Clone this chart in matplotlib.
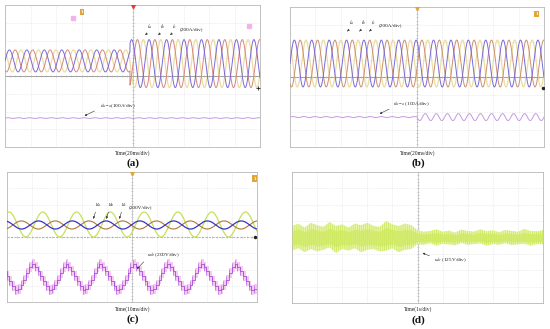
import numpy as np
import matplotlib

matplotlib.use("Agg")
import matplotlib.pyplot as plt

plt.rcParams["font.family"] = ["Liberation Serif", "DejaVu Serif"]
plt.rcParams["mathtext.fontset"] = "stix"
plt.rcParams["hatch.linewidth"] = 0.4

# ── values (units: divisions; x 10 div, y 8 div) ──
A_CYCLES = 14.6            # cycles across the screen
A_STEP = -0.1              # time of the load step
A_AMP = [0.62, 1.35]       # phase-current amplitude before / after
A_OFF = [0.85, 0.70]       # trace offset before / after
A_IDC = -2.37              # i_dc-a level
A_PHASE = [0.0, -2.09, 2.09]

B_CYCLES = 14.6
B_AMP = 1.34
B_OFF = 0.77
B_IDC = -2.29
B_RIPPLE = [0.03, 0.20]    # i_dc-a ripple before / after centre
B_RIPPLE_CYCLES = 23
B_PHASE = [0.0, -2.09, 2.09]

C_CYCLES = 7.4
C_BIG_AMP, C_BIG_OFF = 0.77, 0.77
C_SMALL_AMP, C_SMALL_OFF = 0.25, 0.74
C_PHASE = [1.2, 2.0, -1.1]          # yellow-green, blue, brown
C_UAB_OFF, C_UAB_AMP = -2.46, 0.80
C_UAB_START = -4.68                 # first trough
C_UAB_SHAPE = [-1.0, -0.9, -0.6, -0.2, 0.3, 0.75, 1.0, 0.8, 0.45, 0.1, -0.3, -0.7]

D_X = [-5.0, -4.75, -4.5, -4.25, -4.0, -3.75, -3.5, -3.25, -3.0, -2.75, -2.5,
       -2.25, -2.0, -1.75, -1.5, -1.25, -1.0, -0.75, -0.5, -0.25, 0.0, 0.25,
       0.5, 0.75, 1.0, 1.25, 1.5, 1.75, 2.0, 2.25, 2.5, 2.75, 3.0, 3.25, 3.5,
       3.75, 4.0, 4.25, 4.5, 4.75, 5.0]
D_TOP = [0.70, 0.85, 0.60, 0.90, 0.75, 0.65, 0.95, 0.70, 0.80, 0.60, 0.85,
         0.75, 0.90, 0.70, 0.65, 1.00, 0.80, 0.70, 0.85, 0.75, 0.45, 0.35,
         0.40, 0.50, 0.35, 0.42, 0.30, 0.48, 0.40, 0.36, 0.50, 0.38, 0.44,
         0.33, 0.46, 0.40, 0.35, 0.52, 0.40, 0.38, 0.45]
D_BOT = [-0.80, -0.65, -0.90, -0.70, -0.85, -0.75, -0.60, -0.95, -0.70, -0.80,
         -0.65, -0.90, -0.75, -0.70, -0.85, -0.80, -0.65, -0.90, -0.75, -0.70,
         -0.40, -0.45, -0.35, -0.50, -0.38, -0.42, -0.48, -0.33, -0.45, -0.40,
         -0.36, -0.50, -0.40, -0.44, -0.35, -0.46, -0.42, -0.38, -0.50, -0.40,
         -0.42]

TIME_LABELS = ["Time(20ms/div)", "Time(20ms/div)", "Time(10ms/div)", "Time(1s/div)"]
PANEL_LABELS = ["(a)", "(b)", "(c)", "(d)"]

PURPLE, SALMON, YELLOW = "#7262d8", "#d4807a", "#e6d58a"
LAV = "#c79ae0"
GRIDC = "#cdcdcd"
T = np.linspace(-5, 5, 4000)


def scope(ax, centre="#9a9a9a", centre_ls="-"):
    ax.set_xlim(-5, 5)
    ax.set_ylim(-4, 4)
    ax.set_xticks([])
    ax.set_yticks([])
    for s in ax.spines.values():
        s.set_color("#b8b8b8")
        s.set_linewidth(0.6)
    for x in range(-4, 5):
        ax.axvline(x, color=GRIDC, lw=0.4, ls=(0, (1, 2)), zorder=0)
    for y in range(-3, 4):
        ax.axhline(y, color=GRIDC, lw=0.4, ls=(0, (1, 2)), zorder=0)
    ax.axvline(0, color="#bdbdbd", lw=0.5, zorder=0.5)
    ax.axhline(0, color=centre, lw=0.5, ls=centre_ls, zorder=0.5)
    mx = np.arange(-5, 5.01, 0.2)
    my = np.arange(-4, 4.01, 0.2)
    ax.plot(mx, np.zeros_like(mx), "|", ms=2, mew=0.4, color="#b0b0b0", zorder=0.5)
    ax.plot(np.zeros_like(my), my, "_", ms=2, mew=0.4, color="#b0b0b0", zorder=0.5)


def wave(cycles, phase):
    return np.sin(2 * np.pi * cycles * (T + 5) / 10 + phase)


def label(ax, x, y, s, dx=-0.15, dy=-0.35, fs=4):
    ax.annotate("", xy=(x + dx, y + dy), xytext=(x + 0.02, y - 0.12),
                arrowprops=dict(arrowstyle="-|>", lw=0.4, color="#333333",
                                mutation_scale=3), zorder=6)
    ax.text(x, y, s, fontsize=fs, color="#222222", ha="left", va="bottom", zorder=6)


def chip(ax, x, y):
    ax.text(x, y, "1", fontsize=3.5, color="white", ha="center", va="center",
            fontweight="bold", zorder=7,
            bbox=dict(boxstyle="square,pad=0.25", fc="#e3a43a", ec="none"))


fig = plt.figure(figsize=(5.5, 3.29), dpi=100)
fig.patch.set_facecolor("white")

# ── (a) ──
ax = fig.add_axes([5 / 550, 1 - 147 / 329, 255 / 550, 142 / 329])
scope(ax, centre="#7d7d7d")
amp = np.where(T < A_STEP, A_AMP[0], A_AMP[1])
off = np.where(T < A_STEP, A_OFF[0], A_OFF[1])
for ph, col, lw, z in zip(A_PHASE, [PURPLE, SALMON, YELLOW], [0.7, 0.7, 0.9], [4, 3, 2]):
    ax.plot(T, off + amp * wave(A_CYCLES, ph), color=col, lw=lw, zorder=z,
            alpha=0.95 if col != YELLOW else 0.8)
ax.plot(T, A_IDC + 0.02 * wave(A_CYCLES * 1.6, 0), color=LAV, lw=0.7, zorder=3)
ax.plot([0], [3.93], "v", ms=3, color="#e23a3a", zorder=7)
chip(ax, -1.98, 3.6)
ax.plot([-2.33, 4.57], [3.27, 2.8], "s", ms=2.2, color="#f3b3ea", zorder=6)
ax.plot([4.92], [-0.68], "+", ms=3, mew=0.6, color="#222222", zorder=7)
label(ax, 0.57, 2.55, "$i_a$")
label(ax, 1.08, 2.55, "$i_b$")
label(ax, 1.55, 2.55, "$i_c$")
ax.text(1.85, 2.55, "(200A/div)", fontsize=3.8, color="#222222", va="bottom")
ax.annotate("", xy=(-1.98, -2.31), xytext=(-1.39, -1.9),
            arrowprops=dict(arrowstyle="-|>", lw=0.4, color="#333333", mutation_scale=3))
ax.text(-1.27, -1.9, "$i_{dc-a}$(100A/div)", fontsize=3.8, color="#222222", va="bottom")

# ── (b) ──
ax = fig.add_axes([290 / 550, 1 - 147 / 329, 254 / 550, 140 / 329])
scope(ax, centre="#7d7d7d")
for ph, col, lw, z in zip(B_PHASE, [PURPLE, "#c98a6a", YELLOW], [0.7, 0.7, 0.9], [4, 3, 2]):
    ax.plot(T, B_OFF + B_AMP * wave(B_CYCLES, ph), color=col, lw=lw, zorder=z,
            alpha=0.95 if col != YELLOW else 0.8)
rip = np.where(T < 0, B_RIPPLE[0], B_RIPPLE[1])
ax.plot(T, B_IDC + rip * wave(B_RIPPLE_CYCLES, 0), color=LAV, lw=0.7, zorder=3)
ax.plot([0], [3.93], "v", ms=3, color="#e3a43a", zorder=7)
chip(ax, 4.72, 3.6)
ax.plot([4.96], [-0.63], "o", ms=1.5, color="#222222", zorder=7)
label(ax, -2.68, 2.85, "$i_a$")
label(ax, -2.20, 2.85, "$i_b$")
label(ax, -1.81, 2.85, "$i_c$")
ax.text(-1.5, 2.85, "(200A/div)", fontsize=3.8, color="#222222", va="bottom")
ax.annotate("", xy=(-1.57, -2.17), xytext=(-1.0, -1.77),
            arrowprops=dict(arrowstyle="-|>", lw=0.4, color="#333333", mutation_scale=3))
ax.text(-0.94, -1.77, "$i_{dc-a}$ (100A/div)", fontsize=3.8, color="#222222", va="bottom")

# ── (c) ──
ax = fig.add_axes([7 / 550, 1 - 302 / 329, 250 / 550, 130 / 329])
scope(ax, centre="#9a9a9a", centre_ls=(0, (3, 2)))
ax.plot(T, C_BIG_OFF + C_BIG_AMP * wave(C_CYCLES, C_PHASE[0]), color="#c6e05c", lw=0.9, zorder=3)
ax.plot(T, C_SMALL_OFF + C_SMALL_AMP * wave(C_CYCLES, C_PHASE[2]), color="#b07838", lw=0.8, zorder=4)
ax.plot(T, C_SMALL_OFF + C_SMALL_AMP * wave(C_CYCLES, C_PHASE[1]), color="#3a34c8", lw=0.9, zorder=5)
period = 10 / C_CYCLES
n = len(C_UAB_SHAPE)
k = np.arange(-n, int(C_CYCLES * n) + 2 * n)
ts = C_UAB_START + k * period / n
lv = C_UAB_OFF + C_UAB_AMP * np.array([C_UAB_SHAPE[i % n] for i in k])
ax.fill_between(ts, lv - 0.3, lv + 0.3, step="post", color="#f6c9f1", lw=0, zorder=2)
ax.step(ts, lv, where="post", color="#a452dc", lw=0.6, zorder=4)
ax.vlines(ts, lv - 0.25, lv + 0.25, color="#a452dc", lw=0.4, zorder=4)
ax.plot([0], [3.93], "v", ms=3, color="#e3a43a", zorder=7)
chip(ax, 4.9, 3.6)
ax.plot([4.9], [0.0], "o", ms=1.5, color="#222222", zorder=7)
for x, s in zip([-1.48, -0.96, -0.44], ["$u_a$", "$u_b$", "$u_c$"]):
    ax.annotate("", xy=(x - 0.1, 0.95), xytext=(x + 0.05, 1.7),
                arrowprops=dict(arrowstyle="-|>", lw=0.4, color="#333333", mutation_scale=3),
                zorder=6)
    ax.text(x, 1.7, s, fontsize=4, color="#222222", va="bottom", zorder=6)
ax.text(-0.12, 1.7, "(200V/div)", fontsize=3.8, color="#222222", va="bottom")
ax.annotate("", xy=(0.12, -2.09), xytext=(0.55, -1.4),
            arrowprops=dict(arrowstyle="-|>", lw=0.4, color="#333333", mutation_scale=3),
            zorder=6)
ax.text(0.6, -1.35, "$u_{ab}$ (200V/div)", fontsize=3.8, color="#222222", va="bottom", zorder=6)

# ── (d) ──
ax = fig.add_axes([292 / 550, 1 - 303 / 329, 251 / 550, 131 / 329])
scope(ax, centre="#bdbdbd")
ax.fill_between(D_X, D_BOT, D_TOP, facecolor="#e6f5a6", edgecolor="#c2e34a",
                hatch="||||||||", lw=0, zorder=2)
ax.fill_between(D_X, np.array(D_BOT) * 0.6, np.array(D_TOP) * 0.6,
                color="#cfe95e", alpha=0.7, lw=0, zorder=3)
ax.annotate("", xy=(0.1, -0.88), xytext=(0.58, -1.19),
            arrowprops=dict(arrowstyle="-|>", lw=0.4, color="#333333", mutation_scale=3),
            zorder=6)
ax.text(0.66, -1.35, "$u_{dc}$ (125V/div)", fontsize=3.8, color="#222222", va="center", zorder=6)

# ── captions ──
for (xc, yt, yl), tl, pl in zip([(133, 153, 163), (418, 153, 163), (133, 309, 319), (418, 309, 320)],
                                TIME_LABELS, PANEL_LABELS):
    fig.text(xc / 550, 1 - yt / 329, tl, fontsize=4, ha="center", va="center", color="#222222")
    fig.text(xc / 550, 1 - yl / 329, pl, fontsize=8, ha="center", va="center",
             fontweight="bold", color="#111111")

fig.savefig("out.png", dpi=100)
